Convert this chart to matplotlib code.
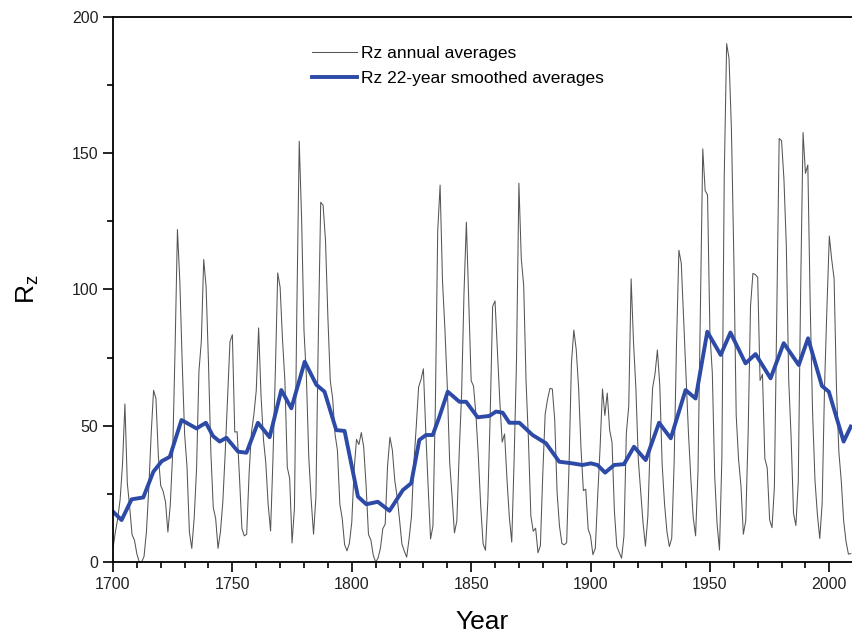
import numpy as np
import matplotlib.pyplot as plt
from matplotlib.ticker import MultipleLocator

plt.rcParams['font.family'] = ['Liberation Sans', 'DejaVu Sans']

# annual sunspot numbers 1700-2009
years = np.arange(1700, 2010)
rz_annual = [
    5, 11, 16, 23, 36, 58, 29, 20, 10, 8, 3, 0, 0, 2, 11, 27, 47, 63, 60, 39,
    28, 26, 22, 11, 21, 40, 78, 122, 103, 73, 47, 35, 11, 5, 16, 34, 70, 81, 111, 101,
    73, 40, 20, 16, 5, 11, 22, 40, 60, 80.9, 83.4, 47.7, 47.8, 30.7, 12.2, 9.6, 10.2, 32.4, 47.6, 54.0,
    62.9, 85.9, 61.2, 45.1, 36.4, 20.9, 11.4, 37.8, 69.8, 106.1, 100.8, 81.6, 66.5, 34.8, 30.6, 7.0, 19.8, 92.5, 154.4, 125.9,
    84.8, 68.1, 38.5, 22.8, 10.2, 24.1, 82.9, 132.0, 130.9, 118.1, 89.9, 66.6, 60.0, 46.9, 41.0, 21.3, 16.0, 6.4, 4.1, 6.8,
    14.5, 34.0, 45.0, 43.1, 47.5, 42.2, 28.1, 10.1, 8.1, 2.5, 0.0, 1.4, 5.0, 12.2, 13.9, 35.4, 45.8, 41.1, 30.1, 23.9,
    15.6, 6.6, 4.0, 1.8, 8.5, 16.6, 36.3, 49.6, 64.2, 67.0, 70.9, 47.8, 27.5, 8.5, 13.2, 56.9, 121.5, 138.3, 103.2, 85.7,
    64.6, 36.7, 24.2, 10.7, 15.0, 40.1, 61.5, 98.5, 124.7, 96.3, 66.6, 64.5, 54.1, 39.0, 20.6, 6.7, 4.3, 22.7, 54.8, 93.8,
    95.8, 77.2, 59.1, 44.0, 47.0, 30.5, 16.3, 7.3, 37.6, 74.0, 139.0, 111.2, 101.6, 66.2, 44.7, 17.0, 11.3, 12.4, 3.4, 6.0,
    32.3, 54.3, 59.7, 63.7, 63.5, 52.2, 25.4, 13.1, 6.8, 6.3, 7.1, 35.6, 73.0, 85.1, 78.0, 64.0, 41.8, 26.2, 26.7, 12.1,
    9.5, 2.7, 5.0, 24.4, 42.0, 63.5, 53.8, 62.0, 48.5, 43.9, 18.6, 5.7, 3.6, 1.4, 9.6, 47.4, 57.1, 103.9, 80.6, 63.6,
    37.6, 26.1, 14.2, 5.8, 16.7, 44.3, 63.9, 69.0, 77.8, 64.9, 35.7, 21.2, 11.1, 5.7, 8.7, 36.1, 79.7, 114.4, 109.6, 88.8,
    67.8, 47.5, 30.6, 16.3, 9.6, 33.2, 92.6, 151.6, 136.3, 134.7, 83.9, 69.4, 31.5, 13.9, 4.4, 38.0, 141.7, 190.2, 184.8, 159.0,
    112.3, 53.9, 37.6, 27.9, 10.2, 15.1, 47.0, 93.8, 105.9, 105.5, 104.5, 66.6, 68.9, 38.0, 34.5, 15.5, 12.6, 27.5, 92.5, 155.4,
    154.6, 140.4, 115.9, 66.6, 45.9, 17.9, 13.4, 29.4, 100.2, 157.6, 142.6, 145.7, 94.3, 54.6, 29.9, 17.5, 8.6, 21.5, 64.3, 93.3,
    119.6, 111.0, 104.0, 63.7, 40.4, 29.8, 15.2, 7.5, 2.9, 3.1,
]

# 22-year smoothed curve
smooth_years = [
    1700, 1703.6, 1707.8, 1712.7, 1716.9, 1720.4, 1723.8, 1728.7, 1735, 1738.9,
    1741.9, 1744.7, 1747.5, 1752.4, 1755.9, 1760.7, 1765.6, 1770.5, 1774.7, 1780.3,
    1785.2, 1788.6, 1793.5, 1797, 1802.6, 1806.1, 1810.9, 1815.8, 1821.4, 1824.9,
    1828.3, 1831.1, 1833.9, 1836.7, 1840.2, 1845.1, 1847.9, 1852.7, 1857.6, 1860.4,
    1863.2, 1866, 1870.2, 1875.7, 1881.3, 1886.9, 1892.4, 1896.6, 1900.1, 1902.9,
    1906.1, 1909.9, 1914, 1918.2, 1923.1, 1928.7, 1933.6, 1939.8, 1944, 1948.9,
    1954.5, 1958.6, 1964.9, 1969.1, 1975.4, 1980.9, 1987.2, 1991.1, 1996.9, 1999.8,
    2006, 2009,
]
smooth_values = [
    18.5, 15.4, 23, 23.7, 33.1, 37, 38.6, 52.1, 49, 51.1,
    46.2, 44.2, 45.6, 40.5, 40.1, 51.1, 45.8, 63.1, 56.4, 73.5,
    65, 62.5, 48.4, 48.1, 24, 21.2, 22.1, 18.8, 26.4, 28.9,
    44.8, 46.6, 46.6, 53.3, 62.5, 58.8, 58.8, 53.1, 53.6, 55.2,
    54.8, 51.1, 51.1, 46.6, 43.6, 36.8, 36.2, 35.6, 36.2, 35.6,
    32.8, 35.6, 35.9, 42.3, 37.4, 51.1, 45.4, 63.1, 60, 84.5,
    76, 84.2, 72.9, 76.3, 67.4, 80.3, 72.3, 82.1, 64.6, 62.5,
    44.2, 49.7,
]

fig = plt.figure(figsize=(8.52, 6.38), dpi=100)
ax = fig.add_axes([0.1326, 0.1191, 0.8674, 0.8543])

ax.plot(years, rz_annual, color='#555555', lw=0.75, label='Rz annual averages')
ax.plot(smooth_years, smooth_values, color='#2c4aa6', lw=2.8,
        label='Rz 22-year smoothed averages')

ax.set_xlim(1700, 2009.5)
ax.set_ylim(0, 200)
ax.xaxis.set_major_locator(MultipleLocator(50))
ax.xaxis.set_minor_locator(MultipleLocator(10))
ax.yaxis.set_major_locator(MultipleLocator(50))
ax.yaxis.set_minor_locator(MultipleLocator(25))
ax.tick_params(which='major', direction='out', length=7, width=1.2,
               labelsize=11.5, labelcolor='#222222')
ax.tick_params(which='minor', direction='out', length=4, width=1.2)
ax.spines['right'].set_visible(False)
for s in ['left', 'bottom', 'top']:
    ax.spines[s].set_linewidth(1.3)

ax.set_xlabel('Year', fontsize=19, labelpad=13)
ax.set_ylabel('R$_\\mathregular{z}$', fontsize=19, labelpad=22)

ax.legend(loc='upper left', bbox_to_anchor=(0.248, 0.975), frameon=False,
          fontsize=12.5, handlelength=2.6, handletextpad=0.25, labelspacing=0.55)

fig.savefig('out.png', dpi=100)
